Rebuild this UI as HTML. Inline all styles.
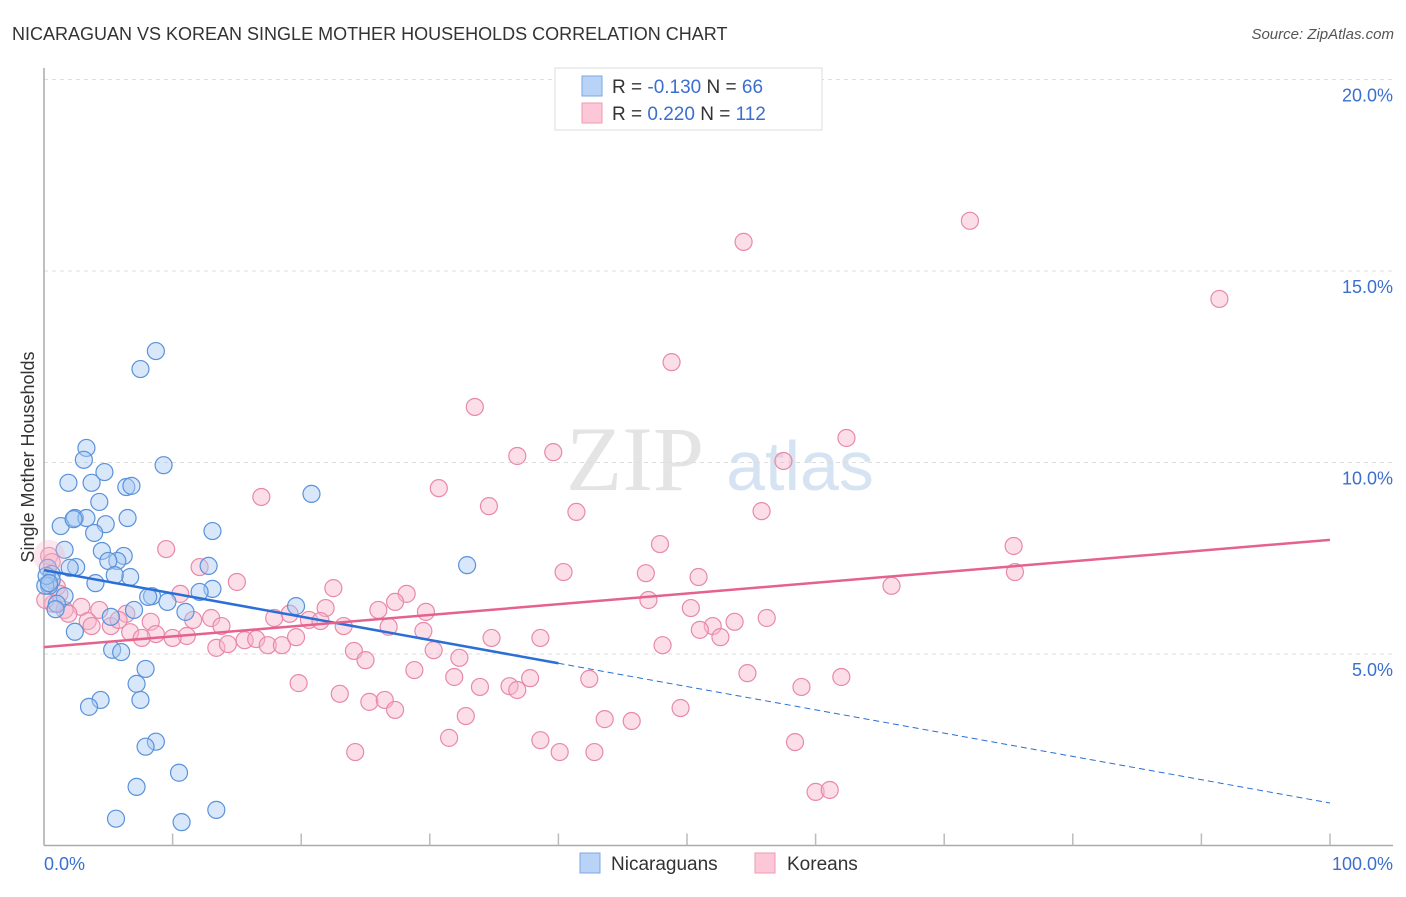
<!DOCTYPE html>
<html><head><meta charset="utf-8"><style>
body{margin:0;background:#fff;font-family:"Liberation Sans",sans-serif;}
</style></head><body>
<svg width="1406" height="892" xmlns="http://www.w3.org/2000/svg" id="svg" style="font-family:'Liberation Sans',sans-serif">
<text x="12" y="40" font-size="18" fill="#333">NICARAGUAN VS KOREAN SINGLE MOTHER HOUSEHOLDS CORRELATION CHART</text>
<text x="1394" y="39" font-size="15" fill="#555" font-style="italic" text-anchor="end">Source: ZipAtlas.com</text>
<g>
<text x="635" y="490" font-size="92" fill="#e4e4e4" font-family="Liberation Serif" text-anchor="middle">ZIP</text>
<text x="800" y="490" font-size="70" fill="#d6e3f3" text-anchor="middle">atlas</text>
</g>
<g id="grid"></g>
<g id="axes"></g>
<g id="marks"></g>
<text transform="translate(34,457) rotate(-90)" font-size="18" fill="#333" text-anchor="middle">Single Mother Households</text>
<g>
<rect x="555" y="68" width="267" height="62" fill="#fff" stroke="#ddd"/>
<rect x="582" y="76" width="20" height="20" fill="#b8d3f5" stroke="#7aa7e3"/>
<rect x="582" y="103" width="20" height="20" fill="#fcc8d8" stroke="#ee9ab4"/>
<text x="612" y="93" font-size="19" fill="#333">R = <tspan fill="#3b6fcf">-0.130</tspan>   N =  <tspan fill="#3b6fcf">66</tspan></text>
<text x="612" y="120" font-size="19" fill="#333">R =  <tspan fill="#3b6fcf">0.220</tspan>   N = <tspan fill="#3b6fcf">112</tspan></text>
</g>
<g>
<rect x="580" y="853" width="20" height="20" fill="#b8d3f5" stroke="#7aa7e3"/>
<text x="611" y="870" font-size="19" fill="#333">Nicaraguans</text>
<rect x="755" y="853" width="20" height="20" fill="#fcc8d8" stroke="#ee9ab4"/>
<text x="787" y="870" font-size="19" fill="#333">Koreans</text>
</g>
</svg>
<script>
const yTicks=[5,10,15,20];
const yTickLabels=["5.0%","10.0%","15.0%","20.0%"];
const xTickLabels=["0.0%","100.0%"];
const blueX=[8.7,7.5,3.3,3.1,1.9,3.7,4.7,6.4,6.8,9.3,4.3,20.8,2.4,3.3,6.5,1.3,2.3,4.8,3.9,13.1,4.5,1.6,6.2,5.7,5.0,12.8,32.9,2.5,2.0,0.3,0.6,6.7,5.5,4.0,0.6,0.4,13.1,12.1,1.6,8.4,8.1,9.6,7.0,19.6,1.0,11.0,5.2,2.4,5.3,6.0,7.9,7.2,4.4,3.5,7.5,8.7,7.9,10.5,7.2,13.4,5.6,10.7,0.1,0.2,0.9,0.4];
const blueY=[12.91,12.44,10.38,10.07,9.47,9.47,9.75,9.36,9.39,9.93,8.97,9.18,8.55,8.55,8.55,8.34,8.52,8.39,8.16,8.21,7.69,7.72,7.56,7.43,7.43,7.30,7.32,7.27,7.25,7.25,7.09,7.01,7.06,6.85,6.93,6.78,6.70,6.62,6.51,6.51,6.49,6.36,6.15,6.25,6.31,6.10,5.97,5.58,5.11,5.05,4.61,4.22,3.80,3.62,3.80,2.71,2.58,1.90,1.53,0.93,0.70,0.61,6.78,7.04,6.17,6.85];
const pinkX=[72.0,54.4,91.4,48.8,33.5,62.4,36.8,39.6,57.5,30.7,16.9,34.6,41.4,55.8,75.4,47.9,9.5,40.4,75.5,46.8,50.9,15.0,65.9,22.5,28.2,27.3,12.1,0.4,10.6,47.0,50.3,26.0,21.9,19.1,29.7,13.0,56.2,53.7,52.0,51.0,0.7,1.6,2.9,4.3,6.4,8.3,11.6,13.8,17.9,20.6,21.5,23.3,26.8,29.5,34.8,38.6,52.6,48.1,5.2,6.7,8.7,11.1,15.6,16.5,17.4,18.5,19.6,13.4,14.3,7.6,10.0,3.4,1.9,24.1,25.0,30.3,32.3,28.8,31.9,37.8,42.4,19.8,33.9,36.2,36.8,54.7,58.9,62.0,23.0,25.3,26.5,27.3,49.5,32.8,43.6,45.7,31.5,38.6,58.4,24.2,40.1,42.8,60.0,61.1,0.6,1.0,0.1,1.2,3.7,5.8];
const pinkY=[16.31,15.76,14.27,12.62,11.45,10.64,10.17,10.27,10.04,9.33,9.10,8.86,8.71,8.73,7.82,7.87,7.74,7.14,7.14,7.11,7.01,6.88,6.78,6.72,6.57,6.36,7.27,7.56,6.57,6.41,6.20,6.15,6.20,6.05,6.10,5.94,5.94,5.84,5.73,5.63,6.31,6.15,6.23,6.15,6.05,5.84,5.89,5.73,5.94,5.89,5.86,5.73,5.71,5.60,5.42,5.42,5.44,5.23,5.73,5.57,5.52,5.47,5.36,5.39,5.23,5.23,5.44,5.16,5.26,5.42,5.42,5.86,6.05,5.08,4.84,5.10,4.90,4.58,4.40,4.37,4.35,4.24,4.14,4.16,4.06,4.50,4.14,4.40,3.96,3.75,3.80,3.54,3.59,3.38,3.30,3.25,2.81,2.75,2.70,2.44,2.44,2.44,1.40,1.45,7.40,6.75,6.41,6.57,5.73,5.89];
const blueTrend=[7.19,1.11]; // value at x=0, x=100
const pinkTrend=[5.18,7.98];
const blueSolidEnd=40;
const NS="http://www.w3.org/2000/svg";
const X0=44,X1=1330,Y0=845.5,PPY=38.3;
const sx=v=>X0+(X1-X0)*v/100, sy=v=>Y0-v*PPY;
function mk(tag,attrs,parent){const e=document.createElementNS(NS,tag);for(const k in attrs)e.setAttribute(k,attrs[k]);parent.appendChild(e);return e;}
const grid=document.getElementById('grid'),axes=document.getElementById('axes'),marks=document.getElementById('marks');
yTicks.forEach((t,i)=>{
 const l=mk('line',{x1:X0,x2:1393,y1:sy(t),y2:sy(t),stroke:'#ddd','stroke-dasharray':'4,4'},grid);
 
 
 const tx=mk('text',{x:1393,y:sy(t)+22,'font-size':18,fill:'#3b6fcf','text-anchor':'end'},axes);
 tx.textContent=yTickLabels[i];
 
 
});
const ya=mk('line',{x1:X0,x2:X0,y1:68,y2:Y0,stroke:'#aaa','stroke-width':1.5},axes);


const xa=mk('line',{x1:X0,x2:1393,y1:Y0,y2:Y0,stroke:'#aaa','stroke-width':1.5},axes);


for(let i=1;i<=10;i++){
 const t=mk('line',{x1:sx(i*10),x2:sx(i*10),y1:Y0-12,y2:Y0,stroke:'#bbb','stroke-width':1.5},axes);
 
 
}
[[0,'start',X0],[100,'end',1393]].forEach((p,i)=>{
 const tx=mk('text',{x:p[2],y:870,'font-size':18,fill:'#3b6fcf','text-anchor':p[1]},axes);
 tx.textContent=xTickLabels[i];
 
 
});
function dots(xs,ys,fill,stroke,name){
 xs.forEach((x,i)=>{
  const c=mk('circle',{cx:sx(x),cy:sy(ys[i]),r:8.5,fill:fill,'fill-opacity':0.45,stroke:stroke,'stroke-width':1.2},marks);
  
  
 });
}
dots(pinkX,pinkY,'#f9b6cb','#e889a8','korean-point');
dots(blueX,blueY,'#a9c9f2','#5a92db','nicaraguan-point');
const big=mk('circle',{cx:sx(0.4),cy:sy(7.56),r:16,fill:'#f9b6cb','fill-opacity':0.35,stroke:'none'},marks);


const by=x=>blueTrend[0]+(blueTrend[1]-blueTrend[0])*x/100, py=x=>pinkTrend[0]+(pinkTrend[1]-pinkTrend[0])*x/100;
const b1=mk('line',{x1:sx(0),y1:sy(by(0)),x2:sx(blueSolidEnd),y2:sy(by(blueSolidEnd)),stroke:'#2b6fd6','stroke-width':2.5},marks);


const b2=mk('line',{x1:sx(blueSolidEnd),y1:sy(by(blueSolidEnd)),x2:sx(100),y2:sy(by(100)),stroke:'#2b6fd6','stroke-width':1,'stroke-dasharray':'6,4'},marks);


const p1=mk('line',{x1:sx(0),y1:sy(py(0)),x2:sx(100),y2:sy(py(100)),stroke:'#e5628e','stroke-width':2.5},marks);


</script>
</body></html>
